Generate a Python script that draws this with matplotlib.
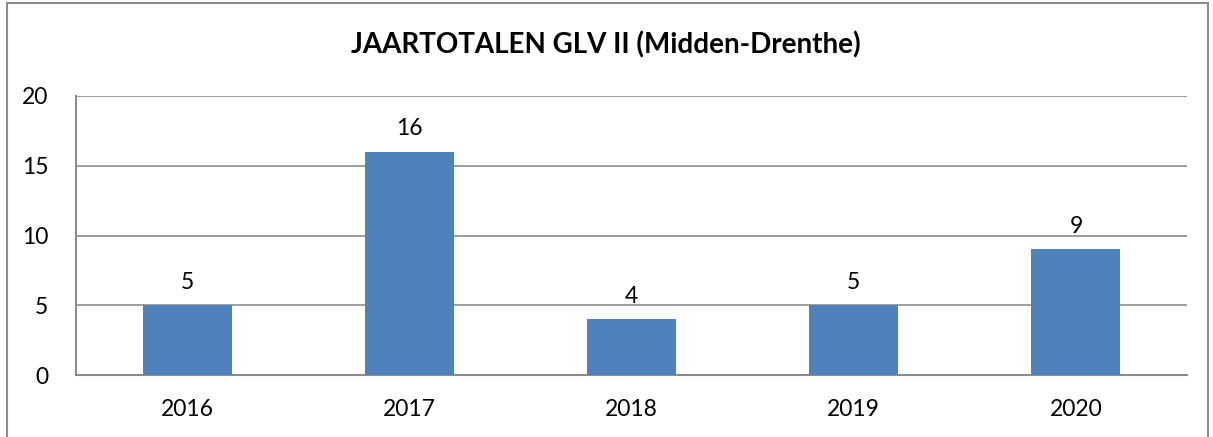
import matplotlib
matplotlib.use('Agg')
import matplotlib.pyplot as plt
from matplotlib.patches import Rectangle

years = ['2016', '2017', '2018', '2019', '2020']
totals = [5, 16, 4, 5, 9]

plt.rcParams['font.family'] = ['Lato', 'DejaVu Sans']

fig = plt.figure(figsize=(12.13, 4.37), dpi=100)
W, H = 1213, 437

# outer chart frame
fig.patches.append(Rectangle((7 / W, -0.05), 1201 / W, 1 - 3 / H + 0.05,
                             transform=fig.transFigure, fill=False,
                             edgecolor='#8c8c8c', linewidth=1.5))

ax = fig.add_axes([76 / W, 1 - 375 / H, (1187 - 76) / W, (375 - 96) / H])
x = range(len(years))
bars = ax.bar(x, totals, width=0.4, color='#4f81bd', zorder=3)
for xi, v in zip(x, totals):
    ax.text(xi, v + 0.9, str(v), ha='center', va='bottom', fontsize=16.5)

ax.set_xlim(-0.5, len(years) - 0.5)
ax.set_ylim(0, 20)
ax.set_yticks([0, 5, 10, 15, 20])
ax.set_xticks(list(x))
ax.set_xticklabels(years)
ax.tick_params(axis='both', length=0, labelsize=16.5)
ax.tick_params(axis='y', pad=20)
ax.tick_params(axis='x', pad=17)
ax.grid(axis='y', color='#8c8c8c', linewidth=1.2, zorder=0)
for side in ['top', 'right']:
    ax.spines[side].set_visible(False)
for side in ['left', 'bottom']:
    ax.spines[side].set_color('#8c8c8c')
    ax.spines[side].set_linewidth(1.5)

fig.text(606 / W, 1 - 45 / H, 'JAARTOTALEN GLV II (Midden-Drenthe)',
         ha='center', va='center', fontsize=20, fontweight='bold')

fig.savefig('out.png', dpi=100)
